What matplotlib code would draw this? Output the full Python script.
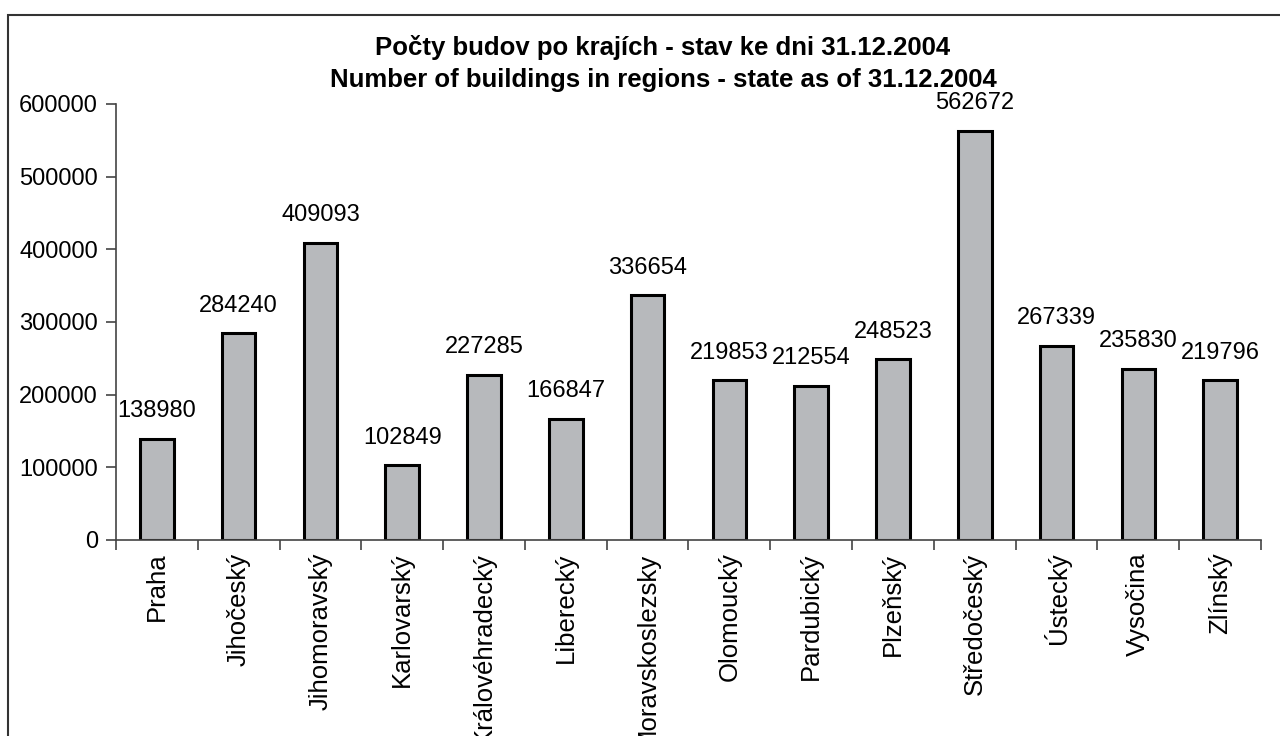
import matplotlib
matplotlib.use("Agg")
import matplotlib.pyplot as plt
from matplotlib.patches import Rectangle

regions = ["Praha", "Jihočeský", "Jihomoravský", "Karlovarský", "Královéhradecký",
           "Liberecký", "Moravskoslezsky", "Olomoucký", "Pardubický", "Plzeňský",
           "Středočeský", "Ústecký", "Vysočina", "Zlínský"]
buildings = [138980, 284240, 409093, 102849, 227285, 166847, 336654, 219853,
             212554, 248523, 562672, 267339, 235830, 219796]
title_cz = "Počty budov po krajích - stav ke dni 31.12.2004"
title_en = "Number of buildings in regions - state as of 31.12.2004"

plt.rcParams['font.family'] = ['Liberation Sans', 'DejaVu Sans']

fig = plt.figure(figsize=(12.8, 7.36), dpi=100)
ax = fig.add_axes([116/1280, 1-540/736, (1261-116)/1280, (540-104)/736])

x = list(range(len(regions)))
bars = ax.bar(x, buildings, width=0.41, color="#b7b9bc", edgecolor="black", linewidth=2.2, zorder=2)
for xi, v in zip(x, buildings):
    ax.annotate(f"{v}", (xi, v), xytext=(0, 12), textcoords="offset points",
                ha="center", va="bottom", fontsize=17)

ax.set_xlim(-0.5, len(regions) - 0.5)
ax.set_ylim(0, 600000)
ax.set_yticks(range(0, 600001, 100000))
ax.set_yticklabels([str(t) for t in range(0, 600001, 100000)], fontsize=17)
ax.set_xticks(x)
ax.set_xticklabels(regions, rotation=90, fontsize=18.5, va="top", ha="center")
ax.tick_params(axis="x", length=0, pad=9)
ax.set_xticks([i - 0.5 for i in range(len(regions) + 1)], minor=True)
ax.tick_params(axis="x", which="minor", length=7, width=1.2, color="#444444")
ax.tick_params(axis="y", length=7, width=1.2, color="#444444", pad=6)
for s in ["top", "right"]:
    ax.spines[s].set_visible(False)
for s in ["left", "bottom"]:
    ax.spines[s].set_color("#444444")
    ax.spines[s].set_linewidth(1.2)

fig.text(663/1280, 1-48/736, title_cz, ha="center", va="center", fontsize=18.5, fontweight="bold")
fig.text(663/1280, 1-80/736, title_en, ha="center", va="center", fontsize=18.5, fontweight="bold")

fig.patches.append(Rectangle((8/1280, -0.1), 1.2, 1.1 - 15/736, transform=fig.transFigure,
                             fill=False, edgecolor="#333333", linewidth=1.5))

fig.savefig("out.png", dpi=100)
